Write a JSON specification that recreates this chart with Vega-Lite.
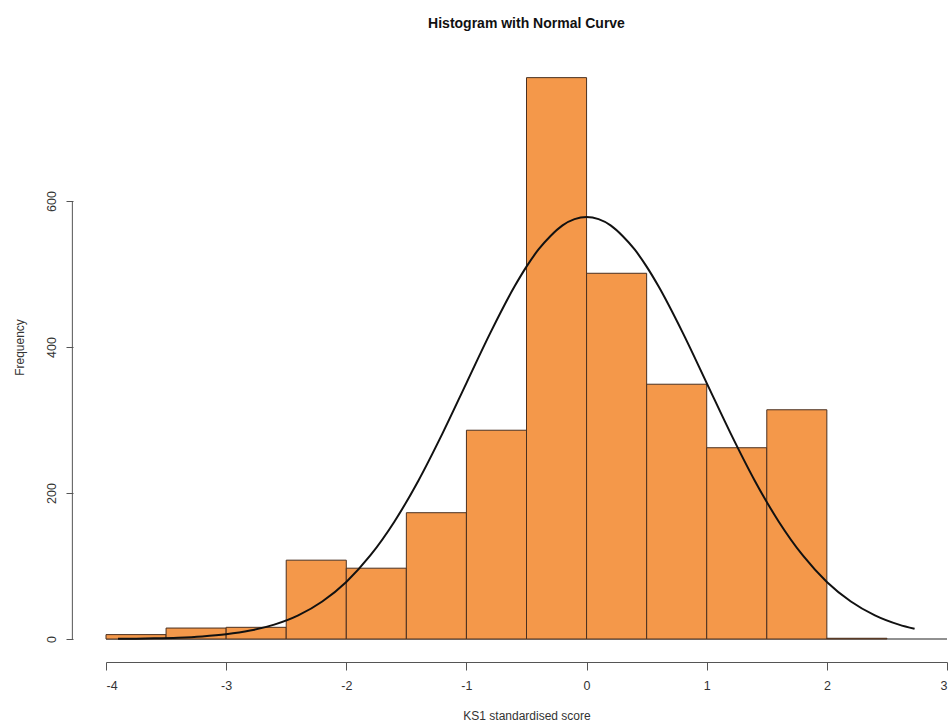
{
  "$schema": "https://vega.github.io/schema/vega-lite/v6.json",
  "width": 841,
  "height": 584,
  "autosize": {"type": "none"},
  "padding": {"left": 106, "top": 55, "right": 5, "bottom": 87},
  "background": "white",
  "title": {
    "text": "Histogram with Normal Curve",
    "font": "Liberation Sans",
    "fontSize": 14,
    "fontWeight": "bold",
    "color": "#111111",
    "anchor": "middle",
    "offset": 24
  },
  "config": {
    "view": {"stroke": null},
    "axis": {
      "grid": false,
      "labelFont": "Liberation Sans",
      "titleFont": "Liberation Sans",
      "labelFontSize": 12.5,
      "titleFontSize": 12,
      "titleFontWeight": "normal",
      "labelColor": "#333333",
      "titleColor": "#333333",
      "domainColor": "#555555",
      "tickColor": "#555555",
      "domainWidth": 1,
      "tickWidth": 1,
      "labelExpr": "'' + datum.value"
    }
  },
  "datasets": {
    "bins": [
      {"bin_start": -4.0, "bin_end": -3.5, "count": 6},
      {"bin_start": -3.5, "bin_end": -3.0, "count": 15},
      {"bin_start": -3.0, "bin_end": -2.5, "count": 16},
      {"bin_start": -2.5, "bin_end": -2.0, "count": 108},
      {"bin_start": -2.0, "bin_end": -1.5, "count": 97},
      {"bin_start": -1.5, "bin_end": -1.0, "count": 173},
      {"bin_start": -1.0, "bin_end": -0.5, "count": 286},
      {"bin_start": -0.5, "bin_end": 0.0, "count": 769},
      {"bin_start": 0.0, "bin_end": 0.5, "count": 501},
      {"bin_start": 0.5, "bin_end": 1.0, "count": 349},
      {"bin_start": 1.0, "bin_end": 1.5, "count": 262},
      {"bin_start": 1.5, "bin_end": 2.0, "count": 314},
      {"bin_start": 2.0, "bin_end": 2.5, "count": 1}
    ],
    "curve": [
      {"score": -3.9, "freq": 0.3},
      {"score": -3.75, "freq": 0.5},
      {"score": -3.6, "freq": 0.9},
      {"score": -3.4, "freq": 1.8},
      {"score": -3.2, "freq": 3.5},
      {"score": -3.0, "freq": 6.4},
      {"score": -2.8, "freq": 11.5},
      {"score": -2.6, "freq": 19.7},
      {"score": -2.4, "freq": 32.4},
      {"score": -2.2, "freq": 51.4},
      {"score": -2.0, "freq": 78.2},
      {"score": -1.8, "freq": 114.4},
      {"score": -1.6, "freq": 160.7},
      {"score": -1.4, "freq": 216.9},
      {"score": -1.2, "freq": 281.4},
      {"score": -1.0, "freq": 350.6},
      {"score": -0.8, "freq": 419.7},
      {"score": -0.6, "freq": 482.8},
      {"score": -0.5, "freq": 510.1},
      {"score": -0.4, "freq": 533.6},
      {"score": -0.3, "freq": 552.1},
      {"score": -0.2, "freq": 566.6},
      {"score": -0.1, "freq": 575.1},
      {"score": 0.0, "freq": 578.0},
      {"score": 0.1, "freq": 575.1},
      {"score": 0.2, "freq": 566.6},
      {"score": 0.3, "freq": 552.1},
      {"score": 0.4, "freq": 533.6},
      {"score": 0.5, "freq": 510.1},
      {"score": 0.6, "freq": 482.8},
      {"score": 0.8, "freq": 419.7},
      {"score": 1.0, "freq": 350.6},
      {"score": 1.2, "freq": 281.4},
      {"score": 1.4, "freq": 216.9},
      {"score": 1.6, "freq": 160.7},
      {"score": 1.8, "freq": 114.4},
      {"score": 2.0, "freq": 78.2},
      {"score": 2.2, "freq": 51.4},
      {"score": 2.4, "freq": 32.4},
      {"score": 2.6, "freq": 19.7},
      {"score": 2.73, "freq": 13.9}
    ]
  },
  "layer": [
    {
      "description": "Baseline at zero frequency",
      "data": {"values": [{}]},
      "mark": {"type": "rule", "color": "#222222", "strokeWidth": 1},
      "encoding": {
        "x": {"datum": -4, "type": "quantitative"},
        "x2": {"datum": 3},
        "y": {"datum": 0, "type": "quantitative"}
      }
    },
    {
      "data": {"name": "bins"},
      "mark": {"type": "rect", "fill": "#F4984A", "stroke": "#4a3020", "strokeWidth": 1},
      "encoding": {
        "x": {
          "field": "bin_start",
          "type": "quantitative",
          "scale": {"domain": [-4, 3], "nice": false, "zero": false},
          "axis": {
            "values": [-4, -3, -2, -1, 0, 1, 2, 3],
            "offset": 23,
            "tickSize": 8,
            "labelPadding": 9,
            "title": "KS1 standardised score",
            "titlePadding": 19
          }
        },
        "x2": {"field": "bin_end"},
        "y": {
          "field": "count",
          "type": "quantitative",
          "scale": {"domain": [0, 800], "nice": false},
          "axis": {
            "values": [0, 200, 400, 600],
            "offset": 33,
            "domain": false,
            "tickSize": 7,
            "labelAngle": -90,
            "labelAlign": "center",
            "labelBaseline": "bottom",
            "labelPadding": 8,
            "title": "Frequency",
            "titlePadding": 19
          }
        },
        "y2": {"datum": 0}
      }
    },
    {
      "data": {"name": "curve"},
      "mark": {"type": "line", "color": "#111111", "strokeWidth": 2, "interpolate": "monotone"},
      "encoding": {
        "x": {"field": "score", "type": "quantitative"},
        "y": {"field": "freq", "type": "quantitative"}
      }
    },
    {
      "description": "Left axis line spanning the labelled frequency range",
      "data": {"values": [{}]},
      "mark": {"type": "rule", "color": "#555555", "strokeWidth": 1, "clip": false},
      "encoding": {
        "x": {"datum": -4.28, "type": "quantitative"},
        "y": {"datum": 0, "type": "quantitative"},
        "y2": {"datum": 600}
      }
    }
  ]
}
